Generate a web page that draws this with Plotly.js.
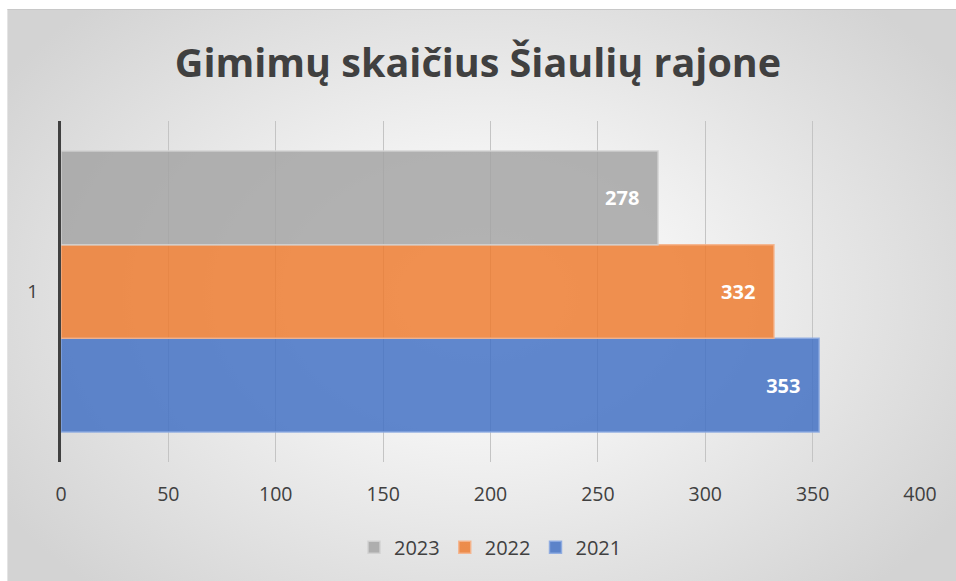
<!DOCTYPE html>
<html>
<head>
<meta charset="utf-8">
<script src="https://cdn.plot.ly/plotly-3.0.1.min.js"></script>
<style>
html,body{margin:0;padding:0;background:#fff;}
#bg{position:absolute;left:7px;top:9px;width:949px;height:572px;
background:radial-gradient(ellipse 60% 70% at 50% 50%, #ffffff 0%, #f3f3f3 35%, #d3d3d3 100%);
border-left:1px solid #e4e4e4;border-top:1px solid #c8c8c8;box-sizing:border-box;}
#chart{position:absolute;left:0;top:0;width:956px;height:581px;}
</style>
</head>
<body>
<div id="bg"></div>
<div id="chart"></div>
<script>
const categories = ["1"];
const seriesNames = ["2021", "2022", "2023"];
const values2021 = [353];
const values2022 = [332];
const values2023 = [278];
const tickVals = [0, 50, 100, 150, 200, 250, 300, 350, 400];

const colors = {"2021": "rgba(68,114,196,0.85)", "2022": "rgba(237,125,49,0.85)", "2023": "rgba(165,165,165,0.85)"};
const lineColors = {"2021": "rgba(140,170,225,0.9)", "2022": "rgba(245,180,140,0.9)", "2023": "rgba(210,210,210,0.9)"};
const valuesBy = {"2021": values2021, "2022": values2022, "2023": values2023};

const traces = seriesNames.map(name => ({
  type: "bar",
  orientation: "h",
  name: name,
  y: categories,
  x: valuesBy[name],
  text: valuesBy[name].map(v => String(v) + "\u00a0\u00a0\u00a0"),
  textposition: "inside",
  insidetextanchor: "end",
  textfont: {family: "Open Sans", size: 20, color: "#ffffff", weight: "bold"},
  marker: {color: colors[name], line: {color: lineColors[name], width: 1.5}},
  hoverinfo: "none"
}));

const layout = {
  width: 956, height: 581,
  paper_bgcolor: "rgba(0,0,0,0)",
  plot_bgcolor: "rgba(0,0,0,0)",
  margin: {l: 61, r: 36, t: 121, b: 119},
  title: {text: "<b>Gimimų skaičius Šiaulių rajone</b>", x: 0.5, xanchor: "center", y: 0.892, yanchor: "middle",
    font: {family: "Open Sans", size: 39.5, color: "#404040"}},
  barmode: "group",
  bargap: 0.176,
  bargroupgap: 0.0,
  showlegend: true,
  legend: {orientation: "h", x: 0.5, xanchor: "center", y: -0.25, yanchor: "middle",
    traceorder: "reversed", font: {family: "Open Sans", size: 20, color: "#404040"},
    itemwidth: 30, bgcolor: "rgba(0,0,0,0)"},
  xaxis: {
    range: [0, 400], tickvals: tickVals, ticktext: tickVals.map(String),
    showgrid: true, gridcolor: "#c4c4c4", gridwidth: 1,
    zeroline: false, showline: false,
    ticks: "outside", ticklen: 0, ticklabelstandoff: 15,
    tickfont: {family: "Open Sans", size: 19.5, color: "#404040"},
    automargin: false, fixedrange: true
  },
  yaxis: {
    type: "category", showline: true, linecolor: "#404040", linewidth: 3,
    showgrid: false, ticks: "", ticklabelstandoff: 16,
    tickfont: {family: "Open Sans", size: 19, color: "#404040"},
    automargin: false, fixedrange: true
  }
};

Plotly.newPlot("chart", traces, layout, {staticPlot: true, displayModeBar: false});
</script>
</body>
</html>
